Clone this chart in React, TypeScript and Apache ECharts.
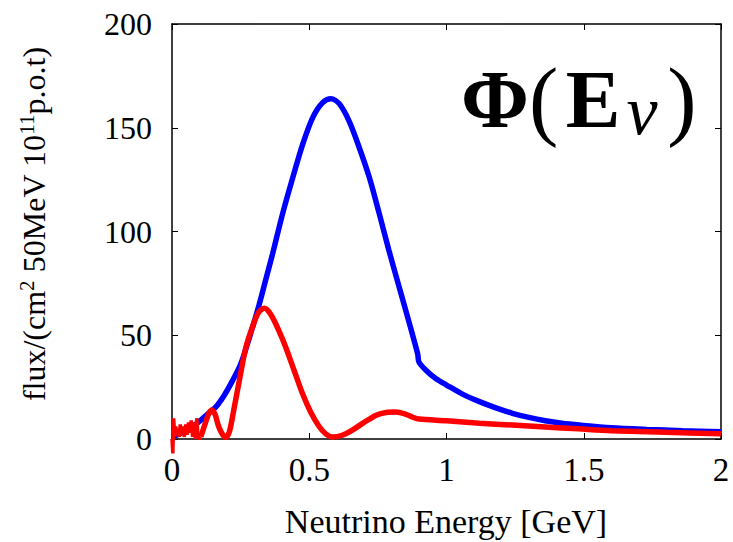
import React, { useEffect, useRef } from "react";
import * as echarts from "echarts";

// Neutrino energy [GeV] and flux values
const blueEnergy = [0, 0.02, 0.05, 0.08, 0.1, 0.13, 0.16, 0.19, 0.22, 0.25, 0.28, 0.318, 0.34, 0.366, 0.403, 0.44, 0.476, 0.513, 0.548, 0.579, 0.61, 0.646, 0.682, 0.719, 0.755, 0.79, 0.828, 0.865, 0.895, 0.9, 0.93, 0.962, 1.0, 1.06, 1.12, 1.18, 1.24, 1.3, 1.36, 1.42, 1.485, 1.6, 1.73, 1.86, 2.0];
const blueFlux = [1, 2, 4, 6.5, 8.5, 12, 15.5, 21, 28, 36, 48, 65, 76, 89, 108.6, 126, 142, 155, 162, 164, 161.5, 153, 140.5, 126, 108.6, 91, 73, 55.6, 41, 37, 32.5, 29, 26, 21.5, 18, 15, 12.4, 10.4, 8.8, 7.6, 6.7, 5.4, 4.6, 4, 3.5];

const redNoiseEnergy = [0, 0.003, 0.006, 0.01, 0.014, 0.018, 0.022, 0.026, 0.03, 0.035, 0.04, 0.045, 0.05, 0.055, 0.06, 0.065, 0.07, 0.075, 0.08, 0.085, 0.09, 0.095, 0.1, 0.105];
const redNoiseFlux = [0, -7, 10, 1, 6, 2, 5, 1, 7, 2, 6, 1, 7, 2, 8, 3, 9, 1, 8, 0, 10, 1, 0, 1];

const redEnergy = [0.105, 0.12, 0.135, 0.146, 0.158, 0.17, 0.185, 0.197, 0.21, 0.225, 0.245, 0.269, 0.293, 0.315, 0.336, 0.36, 0.39, 0.415, 0.445, 0.475, 0.505, 0.536, 0.56, 0.585, 0.62, 0.657, 0.7, 0.744, 0.78, 0.816, 0.85, 0.877, 0.9, 1.0, 1.12, 1.24, 1.36, 1.48, 1.6, 1.8, 2.0];
const redFlux = [1, 7, 12.5, 14, 11.5, 6, 2, 0.8, 4, 14, 28, 44, 54, 61, 63, 60, 52, 44, 33, 22, 13, 6, 2.5, 1, 1.8, 4.3, 8, 11.5, 12.8, 13, 12, 10.5, 9.6, 8.8, 7.6, 6.7, 5.8, 4.9, 4, 3.2, 2.5];

const xTicks = { min: 0, max: 2, interval: 0.5 };
const yTicks = { min: 0, max: 200, interval: 50 };
const xTitle = "Neutrino Energy [GeV]";

const SERIF = "'Liberation Serif', 'DejaVu Serif', serif";

const zip = (xs: number[], ys: number[]) => xs.map((x, i) => [x, ys[i]]);

export default function App() {
  const ref = useRef<HTMLDivElement>(null);
  useEffect(() => {
    if (!ref.current) return;
    const chart = echarts.init(ref.current, null, { renderer: "svg" });
    const tickStyle = { show: true, inside: true, length: 6, lineStyle: { color: "#000", width: 1 } };
    const lineStyle = { show: true, onZero: false, lineStyle: { color: "#000", width: 1.5 } };
    chart.setOption({
      animation: false,
      backgroundColor: "#fff",
      grid: { left: 172, right: 12, top: 24, bottom: 103, containLabel: false },
      xAxis: [
        {
          type: "value", ...xTicks, position: "bottom",
          axisLine: lineStyle, axisTick: tickStyle, splitLine: { show: false },
          axisLabel: { color: "#000", fontFamily: SERIF, fontSize: 33, margin: 14 },
        },
        {
          type: "value", ...xTicks, position: "top",
          axisLine: lineStyle, axisTick: tickStyle, splitLine: { show: false },
          axisLabel: { show: false },
        },
      ],
      yAxis: [
        {
          type: "value", ...yTicks, position: "left",
          axisLine: lineStyle, axisTick: tickStyle, splitLine: { show: false },
          axisLabel: { color: "#000", fontFamily: SERIF, fontSize: 32, margin: 20 },
        },
        {
          type: "value", ...yTicks, position: "right",
          axisLine: lineStyle, axisTick: tickStyle, splitLine: { show: false },
          axisLabel: { show: false },
        },
      ],
      series: [
        {
          type: "line", data: zip(blueEnergy, blueFlux), smooth: 0.3, symbol: "none",
          lineStyle: { color: "#0000ff", width: 5.5 }, z: 2,
        },
        {
          type: "line", data: zip(redNoiseEnergy, redNoiseFlux), smooth: false, symbol: "none", clip: false,
          lineStyle: { color: "#ff0000", width: 3.5 }, z: 3,
        },
        {
          type: "line", data: zip(redEnergy, redFlux), smooth: 0.3, symbol: "none",
          lineStyle: { color: "#ff0000", width: 5.5 }, z: 3,
        },
      ],
      graphic: [
        {
          type: "text", x: 446, y: 521,
          style: { text: xTitle, fill: "#000", font: `34px ${SERIF}`, align: "center", verticalAlign: "middle" },
        },
        {
          type: "text", x: 33, y: 224, rotation: Math.PI / 2,
          style: {
            text: "{a|flux/(cm}{s|2}{a| 50MeV 10}{s|11}{a|p.o.t)}",
            align: "center", verticalAlign: "middle",
            rich: {
              a: { fontFamily: SERIF, fontSize: 32, fill: "#000", verticalAlign: "bottom", lineHeight: 33 },
              s: { fontFamily: SERIF, fontSize: 21, fill: "#000", verticalAlign: "top", lineHeight: 21, padding: [0, 0, 26, 0] },
            },
          },
        },
        {
          type: "text", x: 461, y: 99,
          style: {
            text: "{b|Φ}{p|(}",
            align: "left", verticalAlign: "middle",
            rich: {
              b: { fontFamily: SERIF, fontWeight: "bold", fontSize: 82, fill: "#000", lineHeight: 100, verticalAlign: "middle" },
              p: { fontFamily: SERIF, fontSize: 88, fill: "#000", lineHeight: 100, verticalAlign: "middle" },
            },
          },
        },
        {
          type: "text", x: 593, y: 99,
          style: { text: "E", fill: "#000", font: `bold 82px ${SERIF}`, align: "center", verticalAlign: "middle" },
        },
        {
          type: "text", x: 642, y: 110,
          style: { text: "ν", fill: "#000", font: `italic 70px ${SERIF}`, align: "center", verticalAlign: "middle" },
        },
        {
          type: "text", x: 682, y: 99,
          style: { text: ")", fill: "#000", font: `88px ${SERIF}`, align: "center", verticalAlign: "middle" },
        },
      ],
    });
    return () => chart.dispose();
  }, []);
  return <div ref={ref} style={{ width: 733, height: 542, position: "absolute", left: 0, top: 0 }} />;
}
